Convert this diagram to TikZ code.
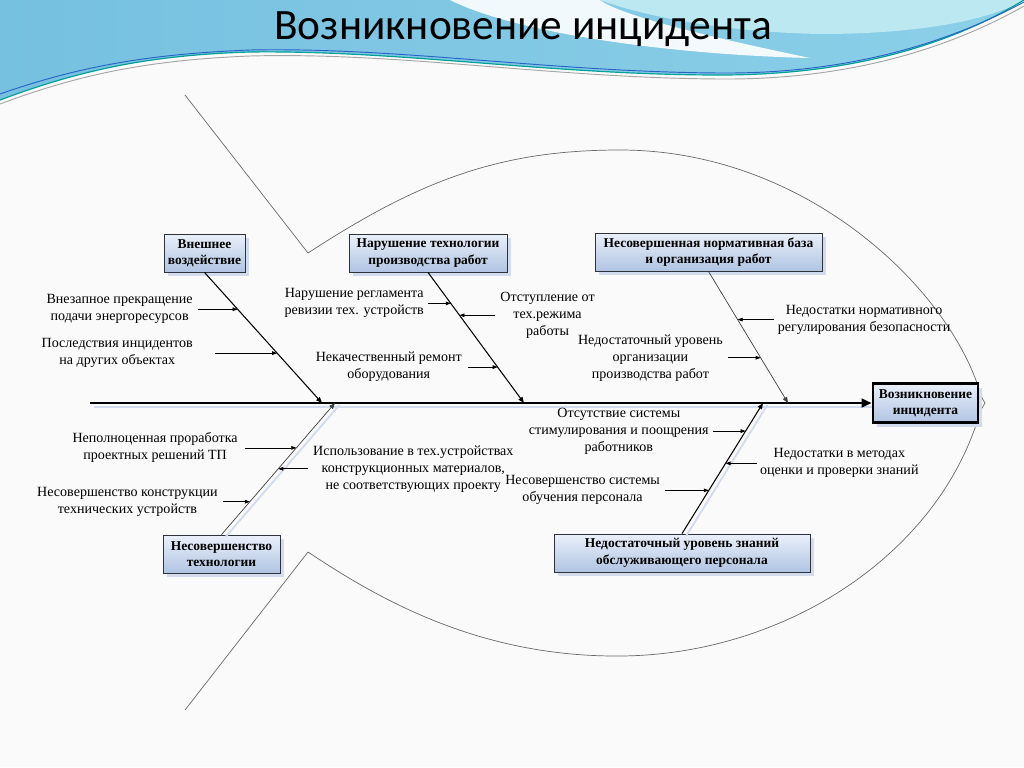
\documentclass[tikz,border=0pt]{standalone}
\usepackage{fontspec}
\setmainfont{Liberation Serif}
\newfontfamily\titlefont{Carlito}
\usetikzlibrary{positioning, calc, arrows.meta, shadows}

\definecolor{pagebg}{RGB}{250,250,250}
\definecolor{wavedark}{RGB}{118,192,224}
\definecolor{wavemid}{RGB}{140,208,232}
\definecolor{wavelight}{RGB}{188,232,242}
\definecolor{waveteal}{RGB}{0,160,150}
\definecolor{waveblue}{RGB}{40,100,200}
\definecolor{boxtop}{RGB}{234,240,250}
\definecolor{boxbot}{RGB}{176,196,226}
\definecolor{boxline}{RGB}{45,50,60}
\definecolor{boxshadow}{RGB}{210,220,238}
\definecolor{fishgrey}{RGB}{105,105,105}

\begin{document}
\begin{tikzpicture}[x=0.3mm, y=-0.3mm,
    causebox/.style={draw=boxline, line width=0.7pt, top color=boxtop, bottom color=boxbot,
        align=center, font=\bfseries\fontsize{11.5}{14}\selectfont, minimum height=11.4mm, inner sep=1pt,
        drop shadow={shadow xshift=1.3mm, shadow yshift=-1.3mm, fill=boxshadow, opacity=1}},
    effectbox/.style={causebox, draw=black, line width=2.4pt},
    cause/.style={align=center, inner sep=0pt, font=\fontsize{12}{14.5}\selectfont},
    spine/.style={-{Triangle[length=3mm,width=2.6mm]}, line width=2.4pt},
    bone/.style={-{Triangle[length=1.8mm,width=1.4mm]}, line width=0.9pt},
    thinbone/.style={bone, draw=black!75, line width=0.6pt},
    subarr/.style={-{Triangle[length=1.5mm,width=1.1mm]}, line width=0.6pt},
    shadowline/.style={draw=boxshadow, line width=1.6pt},
    fish/.style={draw=fishgrey, line width=0.6pt}]
    \useasboundingbox (0,0) rectangle (1024,767);
    \fill[pagebg] (0,0) rectangle (1024,767);

    % top wave
    \shade[left color=wavedark, right color=wavemid] (0,0) -- (1024,0) .. controls (950,45) and (850,75) .. (720,75) .. controls (550,75) and (400,50) .. (250,52) .. controls (150,55) and (80,70) .. (0,100) -- cycle;
    \fill[white, opacity=0.9] (450,0) .. controls (520,35) and (680,55) .. (810,58) .. controls (700,35) and (620,15) .. (600,0) -- cycle;
    \fill[wavelight] (600,0) -- (1024,0) .. controls (990,20) and (920,34) .. (820,34) .. controls (720,32) and (640,15) .. (600,0) -- cycle;
    \draw[waveteal, line width=1pt] (0,100) .. controls (80,70) and (150,55) .. (250,52) .. controls (400,50) and (550,75) .. (720,75) .. controls (850,75) and (950,45) .. (1024,0);
    \draw[waveblue, line width=0.8pt] (0,94) .. controls (80,66) and (150,54) .. (250,50) .. controls (400,47) and (550,72) .. (720,73) .. controls (850,74) and (950,42) .. (1024,2);
    \draw[gray!70, line width=0.8pt] (0,104) .. controls (80,74) and (150,60) .. (250,56) .. controls (400,52) and (550,78) .. (720,79) .. controls (850,80) and (950,48) .. (1024,6);

    % title
    \node[font=\titlefont\fontsize{37}{40}\selectfont, anchor=base] (title) at (523,39) {Возникновение инцидента};

    % fish outline
    \draw[fish] (185,95) -- (308,253);
    \draw[fish] (308,253) .. controls (420,180) and (500,150) .. (620,150) .. controls (800,150) and (940,280) .. (977,383);
    \draw[fish] (976,425) .. controls (930,560) and (780,655) .. (620,656) .. controls (480,657) and (380,600) .. (308,552);
    \draw[fish] (308,552) -- (185,710);
    \draw[fish] (978,391) -- (985,403) -- (978,415);

    % head and spine
    \node[effectbox, minimum width=31.5mm, minimum height=11.7mm] (head) at (925.5,403) {Возникновение\\инцидента};
    \coordinate (tail) at (90,403);
    \draw[shadowline] ([shift={(1.2mm,-1.2mm)}]tail) -- ([shift={(0mm,-1.2mm)}]head.west);
    \draw[spine] (tail) -- (head.west);

    % category boxes
    \node[causebox, minimum width=24.3mm] (k1) at (204.5,253) {Внешнее\\воздействие};
    \node[causebox, minimum width=47.4mm] (k2) at (428,253) {Нарушение технологии\\производства работ};
    \node[causebox, minimum width=68.1mm] (k3) at (708.5,252) {Несовершенная нормативная база\\и организация работ};
    \node[causebox, minimum width=35.1mm] (k4) at (221.5,554) {Несовершенство\\технологии};
    \node[causebox, minimum width=76.8mm] (k5) at (682,553) {Недостаточный уровень знаний\\обслуживающего персонала};

    % bones
    \coordinate (j1) at (322,403);
    \coordinate (j2) at (524,403);
    \coordinate (j3) at (788,403);
    \coordinate (j4) at (335,403);
    \coordinate (j5) at (763,403);
    \draw[shadowline] ([shift={(1.3mm,-0.6mm)}]k4.north) -- ([shift={(1.3mm,-0.6mm)}]j4);
    \draw[shadowline] ([shift={(1.3mm,-0.6mm)}]k5.north) -- ([shift={(1.3mm,-0.6mm)}]j5);
    \draw[bone] (k1.south) -- (j1);
    \draw[bone] (k2.south) -- (j2);
    \draw[thinbone] (k3.south) -- (j3);
    \draw[thinbone] (k4.north) -- (j4);
    \draw[bone] (k5.north) -- (j5);

    % causes on bone 1
    \coordinate (b11) at ($(k1.south)!0.282!(j1)$);
    \coordinate (b12) at ($(k1.south)!0.618!(j1)$);
    \node[cause, left=13.4mm of b11] (t11) {Внезапное прекращение\\подачи энергоресурсов};
    \node[cause, left=25.2mm of b12] (t12) {Последствия инцидентов\\на других объектах};
    \draw[subarr] ([xshift=1.5mm]t11.east) -- (b11);
    \draw[subarr] ([xshift=6.6mm]t12.east) -- (b12);

    % causes on bone 2
    \coordinate (b21) at ($(k2.south)!0.237!(j2)$);
    \coordinate (b22) at ($(k2.south)!0.328!(j2)$);
    \coordinate (b23) at ($(k2.south)!0.725!(j2)$);
    \node[cause, left=8mm of b21] (t21) {Нарушение регламента\\ревизии тех. устройств};
    \node[cause, right=12.2mm of b22] (t22) {Отступление от\\тех.режима\\работы};
    \node[cause, left=10.7mm of b23] (t23) {Некачественный ремонт\\оборудования};
    \draw[subarr] ([xshift=1.2mm]t21.east) -- (b21);
    \draw[subarr] ([xshift=-1.5mm]t22.west) -- (b22);
    \draw[subarr] ([xshift=1.8mm]t23.east) -- (b23);

    % causes on bone 3
    \coordinate (b31) at ($(k3.south)!0.366!(j3)$);
    \coordinate (b32) at ($(k3.south)!0.656!(j3)$);
    \node[cause, right=12mm of b31] (t31) {Недостатки нормативного\\регулирования безопасности};
    \node[cause, left=11.3mm of b32] (t32) {Недостаточный уровень\\организации\\производства работ};
    \draw[subarr] ([xshift=-1.2mm]t31.west) -- (b31);
    \draw[subarr] ([xshift=1.5mm]t32.east) -- (b32);

    % causes on bone 4
    \coordinate (b41) at ($(k4.north)!0.659!(j4)$);
    \coordinate (b42) at ($(k4.north)!0.5!(j4)$);
    \coordinate (b43) at ($(k4.north)!0.25!(j4)$);
    \node[cause, left=17.5mm of b41] (t41) {Неполноценная проработка\\проектных решений ТП};
    \node[cause, right=10.4mm of b42] (t42) {Использование в тех.устройствах\\конструкционных материалов,\\не соответствующих проекту};
    \node[cause, left=9.6mm of b43] (t43) {Несовершенство конструкции\\технических устройств};
    \draw[subarr] ([xshift=2.1mm]t41.east) -- (b41);
    \draw[subarr] ([xshift=-1.5mm]t42.west) -- (b42);
    \draw[subarr] ([xshift=1.5mm]t43.east) -- (b43);

    % causes on bone 5
    \coordinate (b51) at ($(k5.north)!0.785!(j5)$);
    \coordinate (b52) at ($(k5.north)!0.538!(j5)$);
    \coordinate (b53) at ($(k5.north)!0.331!(j5)$);
    \node[cause, left=11mm of b51] (t51) {Отсутствие системы\\стимулирования и поощрения\\работников};
    \node[cause, right=10.3mm of b52] (t52) {Недостатки в методах\\оценки и проверки знаний};
    \node[cause, left=14.6mm of b53] (t53) {Несовершенство системы\\обучения персонала};
    \draw[subarr] ([xshift=1.2mm]t51.east) -- (b51);
    \draw[subarr] ([xshift=-1mm]t52.west) -- (b52);
    \draw[subarr] ([xshift=1.5mm]t53.east) -- (b53);
\end{tikzpicture}
\end{document}
